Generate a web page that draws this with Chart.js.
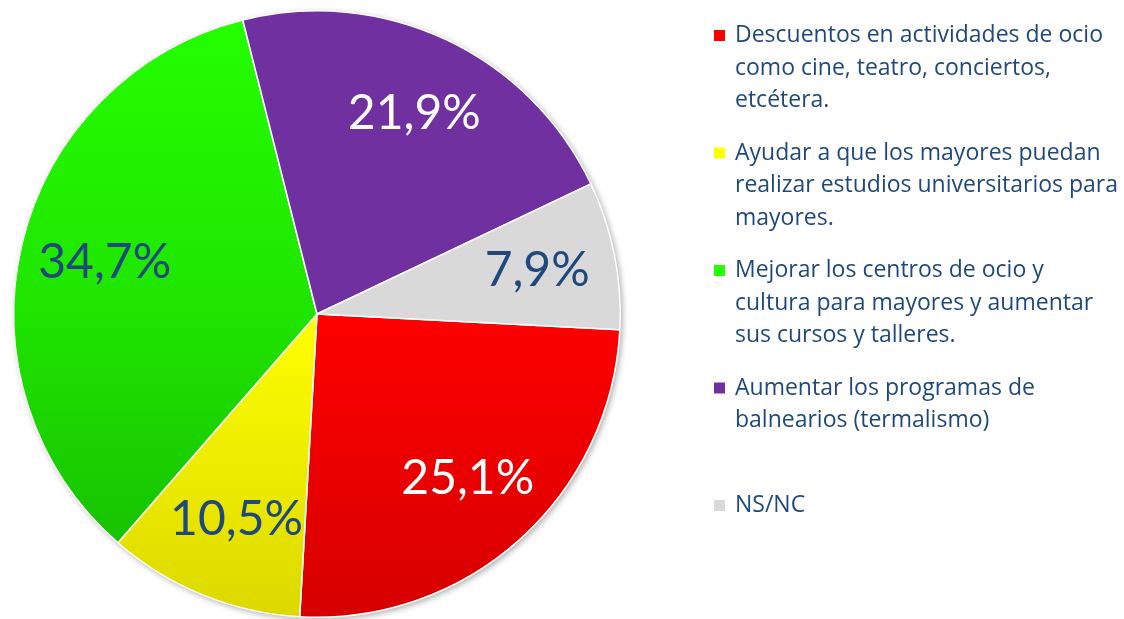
<!DOCTYPE html>
<html>
<head>
<meta charset="utf-8">
<script src="https://cdn.jsdelivr.net/npm/chart.js@4.4.1/dist/chart.umd.min.js"></script>
<style>
  html, body { margin: 0; padding: 0; background: #fff; }
  #wrap { position: relative; width: 1124px; height: 619px; }
</style>
</head>
<body>
<div id="wrap"><canvas id="grafico"></canvas></div>
<script>
// datos
var categorias = [
    ['Descuentos en actividades de ocio', 'como cine, teatro, conciertos,', 'etcétera.'],
    ['Ayudar a que los mayores puedan', 'realizar estudios universitarios para', 'mayores.'],
    ['Mejorar los centros de ocio y', 'cultura para mayores y aumentar', 'sus cursos y talleres.'],
    ['Aumentar los programas de', 'balnearios (termalismo)'],
    ['NS/NC']
];
var porcentajes = [25.1, 10.5, 34.7, 21.9, 7.9];

// colores (arriba, medio, abajo) de cada porcion
var colorArriba = ['#FF0000', '#FFFF00', '#24FF00', '#7030A0', '#D9D9D9'];
var colorMedio  = ['#FF0000', '#FFFF00', '#1FE400', '#7030A0', '#D9D9D9'];
var colorAbajo  = ['#D60000', '#DCD800', '#15B800', '#7030A0', '#D9D9D9'];
var colorEtiqueta = ['#FFFFFF', '#1F497D', '#1F497D', '#FFFFFF', '#1F497D'];
var colorTexto = '#1F497D';

function degradado(context) {
    var i = context.dataIndex;
    var area = context.chart.chartArea;
    if (!area) return colorArriba[i];
    var g = context.chart.ctx.createLinearGradient(0, area.top, 0, area.bottom);
    g.addColorStop(0, colorArriba[i]);
    g.addColorStop(0.5, colorMedio[i]);
    g.addColorStop(1, colorAbajo[i]);
    return g;
}

// sombra suave detras del circulo
var sombra = {
    id: 'sombra',
    beforeDatasetsDraw: function (chart) {
        var arc = chart.getDatasetMeta(0).data[0];
        if (!arc) return;
        var p = arc.getProps(['x', 'y', 'outerRadius'], true);
        var ctx = chart.ctx;
        ctx.save();
        ctx.shadowColor = 'rgba(0,0,0,0.35)';
        ctx.shadowBlur = 6;
        ctx.shadowOffsetX = 2;
        ctx.shadowOffsetY = 2;
        ctx.fillStyle = '#ffffff';
        ctx.beginPath();
        ctx.arc(p.x, p.y, p.outerRadius, 0, Math.PI * 2);
        ctx.fill();
        ctx.restore();
    }
};

// porcentajes dentro de cada porcion
var etiquetas = {
    id: 'etiquetas',
    afterDatasetsDraw: function (chart) {
        var ctx = chart.ctx;
        var meta = chart.getDatasetMeta(0);
        ctx.save();
        ctx.font = '48px Lato';
        ctx.textAlign = 'center';
        ctx.textBaseline = 'middle';
        meta.data.forEach(function (arc, i) {
            var p = arc.getProps(['x', 'y', 'startAngle', 'endAngle', 'outerRadius'], true);
            var a = (p.startAngle + p.endAngle) / 2;
            var r = p.outerRadius * 0.73;
            ctx.fillStyle = colorEtiqueta[i];
            var txt = porcentajes[i].toFixed(1).replace('.', ',') + '%';
            ctx.fillText(txt, p.x + Math.cos(a) * r + 3, p.y + Math.sin(a) * r);
        });
        ctx.restore();
    }
};

// leyenda a la derecha, con varias lineas por entrada
var leyenda = {
    id: 'leyenda',
    afterDraw: function (chart) {
        var ctx = chart.ctx;
        var x0 = 714, y0 = 42, paso = 117.5, linea = 32.6;
        ctx.save();
        ctx.font = '23px "Open Sans"';
        ctx.textAlign = 'left';
        ctx.textBaseline = 'alphabetic';
        chart.data.labels.forEach(function (lab, i) {
            var yb = y0 + i * paso;
            ctx.fillStyle = colorArriba[i];
            ctx.fillRect(x0, yb - 12, 11, 11);
            ctx.fillStyle = colorTexto;
            lab.forEach(function (t, j) {
                ctx.fillText(t, x0 + 21, yb + j * linea);
            });
        });
        ctx.restore();
    }
};

new Chart(document.getElementById('grafico'), {
    type: 'pie',
    data: {
        labels: categorias,
        datasets: [{
            data: porcentajes,
            backgroundColor: degradado,
            borderColor: '#ffffff',
            borderWidth: 1.5
        }]
    },
    options: {
        responsive: true,
        maintainAspectRatio: false,
        animation: false,
        rotation: 93,
        layout: { padding: { left: 12, top: 10, right: 502, bottom: 1 } },
        plugins: {
            legend: { display: false },
            tooltip: { enabled: false }
        }
    },
    plugins: [sombra, etiquetas, leyenda]
});
</script>
</body>
</html>
